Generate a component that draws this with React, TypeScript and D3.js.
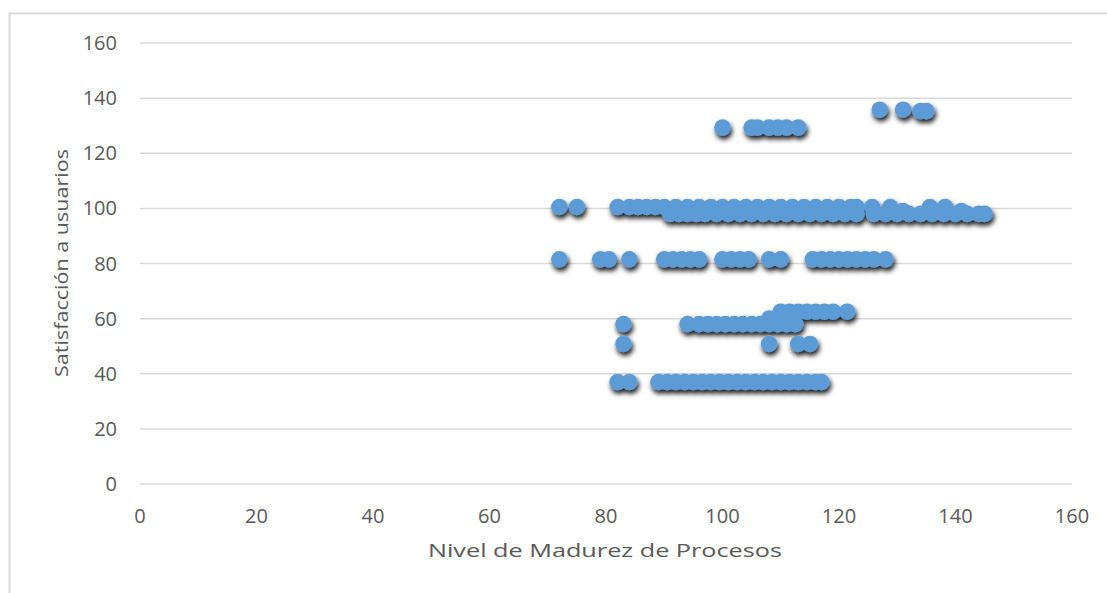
import React from "react";
import * as d3 from "d3";

const xTicks = [0, 20, 40, 60, 80, 100, 120, 140, 160];
const yTicks = [0, 20, 40, 60, 80, 100, 120, 140, 160];

// x values for each horizontal band, with the band's y value
const row136X = [127, 131];
const row135X = [134, 135];
const row129X = [100, 105, 106, 108, 109.5, 111, 113];
const row100X = [72, 75, 82, 84, 85.5, 87, 88.5, 90, 92, 94, 96, 98, 100, 102, 104, 106, 108, 110, 112, 114, 116, 118, 120, 122, 123, 125.7, 128.8, 135.6, 138.2];
const row99X = [93, 97, 101, 105, 109, 113, 117, 121, 131, 137, 141];
const row98X = [91, 92.5, 94, 95.5, 97, 99, 101, 103, 105, 107, 109, 111, 113, 115, 117, 119, 121, 123, 126, 128, 130, 132, 134, 136, 138, 140, 142, 144, 145];
const row81X = [72, 79, 80.5, 84, 90, 91.5, 93, 94.5, 96, 100, 101.5, 103, 104.5, 108, 110, 115.5, 117, 118.5, 120, 121.5, 123, 124.5, 126, 128];
const row62X = [110, 111.5, 113, 114.5, 116, 117.5, 119, 121.4];
const row60X = [108, 109.5];
const row58X = [83, 94, 96, 97.5, 99, 100.5, 102, 103.5, 105, 106.5, 108, 109.5, 111, 112.5];
const row51X = [83, 108, 113, 115];
const row37X = [82, 84, 89, 90.5, 92, 93.5, 95, 96.5, 98, 99.5, 101, 102.5, 104, 105.5, 107, 108.5, 110, 111.5, 113, 114.5, 116, 117];

const bands: [number[], number][] = [
  [row37X, 37],
  [row51X, 50.8],
  [row58X, 58],
  [row60X, 60],
  [row62X, 62.5],
  [row81X, 81.5],
  [row98X, 98],
  [row99X, 99],
  [row100X, 100.5],
  [row129X, 129.3],
  [row135X, 135.3],
  [row136X, 135.8],
];

const points = bands.flatMap(([xs, y]) => xs.map((x) => ({ x, y })));

export default function App() {
  const W = 1107;
  const H = 593;
  const x = d3.scaleLinear().domain([0, 160]).range([140, 1072]);
  const y = d3.scaleLinear().domain([0, 160]).range([484, 43]);
  const font = "'Open Sans', 'Noto Sans', sans-serif";
  return (
    <svg width={W} height={H} style={{ position: "absolute", left: 0, top: 0 }}>
      <defs>
        <filter id="sh" x="-50%" y="-50%" width="200%" height="200%">
          <feDropShadow dx="1.5" dy="3.5" stdDeviation="2.5" floodColor="#000" floodOpacity="0.9" />
        </filter>
      </defs>
      <rect x={0} y={0} width={W} height={H} fill="#fff" />
      <path d={`M9.5,${H} V13.5 H${W}`} fill="none" stroke="#d9d9d9" strokeWidth={2} />
      {yTicks.map((t) => (
        <g key={"y" + t}>
          <line x1={x(0)} x2={x(160)} y1={y(t)} y2={y(t)} stroke="#d9d9d9" strokeWidth={1.5} />
          <text x={117} y={y(t)} dy="0.35em" textAnchor="end" fontFamily={font} fontSize={20} fill="#595959">
            {t}
          </text>
        </g>
      ))}
      {xTicks.map((t) => (
        <text key={"x" + t} x={x(t)} y={516} dy="0.35em" textAnchor="middle" fontFamily={font} fontSize={20} fill="#595959">
          {t}
        </text>
      ))}
      <g filter="url(#sh)">
        {points.map((p, i) => (
          <circle key={i} cx={x(p.x)} cy={y(p.y)} r={8.3} fill="#5B9BD5" />
        ))}
      </g>
      <text
        transform={`translate(62,263) rotate(-90)`}
        textAnchor="middle"
        dy="0.35em"
        fontFamily={font}
        fontSize={18}
        textLength={228}
        lengthAdjust="spacingAndGlyphs"
        fill="#595959"
      >
        Satisfacción a usuarios
      </text>
      <text
        x={605}
        y={551}
        dy="0.35em"
        textAnchor="middle"
        fontFamily={font}
        fontSize={18}
        textLength={354}
        lengthAdjust="spacingAndGlyphs"
        fill="#595959"
      >
        Nivel de Madurez de Procesos
      </text>
    </svg>
  );
}
